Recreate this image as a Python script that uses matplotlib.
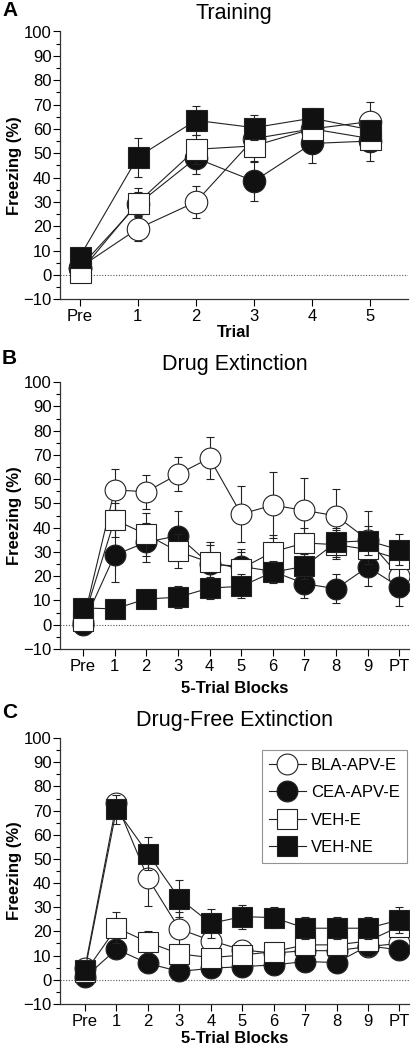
import numpy as np
import matplotlib
matplotlib.use("Agg")
import matplotlib.pyplot as plt
from matplotlib.ticker import MultipleLocator

plt.rcParams["font.family"] = ["Liberation Sans", "DejaVu Sans"]

groups = ["BLA-APV-E", "CEA-APV-E", "VEH-E", "VEH-NE"]

# ---- A: Training ----
train_labels = ["Pre", "1", "2", "3", "4", "5"]
train_bla = [3, 19, 30, 56, 60, 63]
train_bla_err = [1, 5, 6.5, 6, 5, 8]
train_cea = [3, 29, 48, 38.5, 54, 55]
train_cea_err = [1, 5, 6.5, 8, 8, 8]
train_vehe = [1, 29.7, 51.6, 53, 60, 56]
train_vehe_err = [1, 6, 6, 6, 4, 5]
train_vehne = [7.4, 48.4, 63.5, 60.5, 64.4, 59.6]
train_vehne_err = [2, 8, 6, 5, 4, 4]

# ---- B: Drug Extinction ----
block_labels = ["Pre", "1", "2", "3", "4", "5", "6", "7", "8", "9", "PT"]
de_bla = [1, 55.6, 54.8, 62, 68.7, 45.6, 49.3, 47.1, 44.9, 35, 20]
de_bla_err = [1, 8.5, 7, 7, 8.5, 11.5, 13.5, 13.5, 11, 12, 5]
de_cea = [0, 28.7, 34, 36.7, 25, 24, 22, 16.9, 14.8, 23.8, 15.5]
de_cea_err = [1, 11, 8, 10, 8, 6, 4, 6, 6, 8, 8]
de_vehe = [1.5, 43.3, 37.2, 30.2, 25.7, 23.1, 30, 33.7, 33, 31, 27]
de_vehe_err = [1, 7, 9, 7, 8.5, 8, 7, 6, 6, 6, 3]
de_vehne = [6.9, 6.5, 10.6, 11.3, 15.1, 15.8, 21.7, 24, 34, 34.6, 30.9]
de_vehne_err = [2, 2, 2, 4.5, 4.5, 5, 4.5, 5, 6, 6, 6.5]

# ---- C: Drug-Free Extinction ----
df_bla = [5, 73, 42, 21, 16.2, 12.3, 11, 12, 12, 13.7, 15]
df_bla_err = [1, 4, 11.5, 7, 6, 2, 2, 2, 2, 2, 2]
df_cea = [1, 12.6, 6.7, 3.4, 4.7, 5.4, 6.1, 7.5, 7.1, 14, 12.3]
df_cea_err = [1, 3, 2, 2, 2, 2, 2, 2, 2, 2, 2]
df_vehe = [3, 21.5, 15.5, 10.7, 9.1, 10.2, 11.6, 14.4, 14.4, 16, 22]
df_vehe_err = [1, 6.5, 4.5, 3, 3, 3, 3, 3, 3, 3, 3]
df_vehne = [4, 70.5, 52.2, 33.6, 23.3, 26.1, 25.7, 21.3, 21.3, 21.3, 24.7]
df_vehne_err = [1, 6, 7, 7.5, 6, 5, 4.5, 4.5, 4.5, 4.5, 5.5]

styles = [
    dict(marker="o", mfc="white", ms=15),
    dict(marker="o", mfc="#111111", ms=15),
    dict(marker="s", mfc="white", ms=14),
    dict(marker="s", mfc="#111111", ms=14),
]

fig = plt.figure(figsize=(4.13, 10.5), dpi=100)
axA = fig.add_axes([0.145, 0.715, 0.843, 0.255])
axB = fig.add_axes([0.145, 0.382, 0.845, 0.254])
axC = fig.add_axes([0.145, 0.044, 0.845, 0.253])


def panel(ax, labels, series, errs, title, xlabel, xlim, ms_scale=1.0, lpad=3):
    x = np.arange(len(labels))
    ax.axhline(0, color="#555555", lw=0.8, ls=(0, (1, 1.5)), zorder=1)
    handles = []
    for i, (y, e, st) in enumerate(zip(series, errs, styles)):
        ax.errorbar(x, y, yerr=e, fmt="none", ecolor="#222222",
                    elinewidth=0.8, capsize=3, capthick=0.8, zorder=2 + i)
        h, = ax.plot(x, y, color="#222222", lw=0.8, marker=st["marker"],
                     mfc=st["mfc"], mec="#222222", mew=0.8,
                     ms=st["ms"] * ms_scale, zorder=2 + i, label=groups[i])
        handles.append(h)
    ax.set_xlim(*xlim)
    ax.set_ylim(-10, 100)
    ax.set_xticks(x)
    ax.set_xticklabels(labels, fontsize=12)
    ax.yaxis.set_major_locator(MultipleLocator(10))
    ax.yaxis.set_minor_locator(MultipleLocator(5))
    ax.tick_params(axis="y", labelsize=12, length=5, width=0.8, pad=1)
    ax.tick_params(axis="y", which="minor", length=3, width=0.8)
    ax.tick_params(axis="x", length=5, width=0.8, pad=2)
    for s in ("top", "right"):
        ax.spines[s].set_visible(False)
    for s in ("left", "bottom"):
        ax.spines[s].set_linewidth(0.9)
        ax.spines[s].set_color("#333333")
    ax.set_ylabel("Freezing (%)", fontsize=12, fontweight="bold", labelpad=1)
    ax.set_xlabel(xlabel, fontsize=12, fontweight="bold", labelpad=lpad)
    ax.set_title(title, fontsize=15.5, pad=9)
    return handles


panel(axA, train_labels,
      [train_bla, train_cea, train_vehe, train_vehne],
      [train_bla_err, train_cea_err, train_vehe_err, train_vehne_err],
      "Training", "Trial", (-0.34, 5.65), ms_scale=1.08, lpad=1)
panel(axB, block_labels,
      [de_bla, de_cea, de_vehe, de_vehne],
      [de_bla_err, de_cea_err, de_vehe_err, de_vehne_err],
      "Drug Extinction", "5-Trial Blocks", (-0.73, 10.3), lpad=5)
hC = panel(axC, block_labels,
           [df_bla, df_cea, df_vehe, df_vehne],
           [df_bla_err, df_cea_err, df_vehe_err, df_vehne_err],
           "Drug-Free Extinction", "5-Trial Blocks", (-0.8, 10.3), lpad=2)

leg = axC.legend(handles=hC, loc="upper right", bbox_to_anchor=(0.995, 0.955),
                 fontsize=12, frameon=True, fancybox=False, edgecolor="#777777",
                 handlelength=2.2, handletextpad=0.3, borderpad=0.45,
                 labelspacing=0.75, borderaxespad=0)
leg.get_frame().set_linewidth(0.8)

for lab, yy in (("A", 0.990), ("B", 0.659), ("C", 0.321)):
    fig.text(0.005, yy, lab, fontsize=15, fontweight="bold", va="center")

fig.savefig("out.png", dpi=100)
